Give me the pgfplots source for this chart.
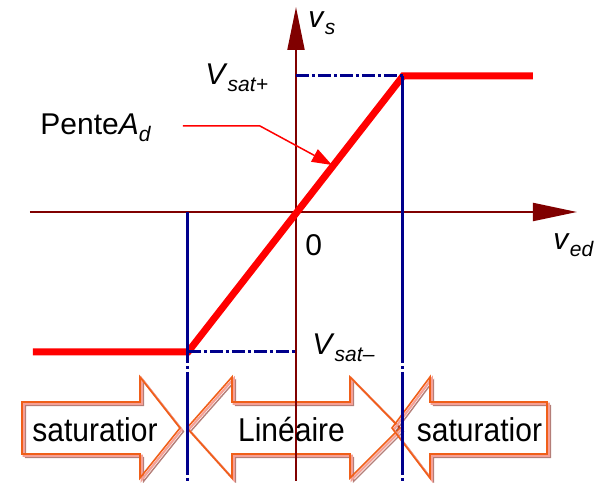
\documentclass[border=0pt]{standalone}
\usepackage{fontspec}
\setmainfont{Liberation Sans}
\usepackage{pgfplots}
\pgfplotsset{compat=1.18}
\usepackage{pgfplotstable}
\usetikzlibrary{arrows.meta}
\definecolor{axred}{RGB}{128,0,0}
\definecolor{bluec}{RGB}{0,0,140}
\definecolor{orangec}{RGB}{240,95,25}
\definecolor{pinkc}{RGB}{245,160,150}
\definecolor{shadowc}{RGB}{130,40,30}
\newcommand{\sbs}[1]{\raisebox{-0.4ex}{\fontsize{10.5}{12}\selectfont\itshape #1}}

% block arrows (pixel-offset units, origin at the axes' crossing)
\pgfplotstableread{
x y
-274 -190
-156 -190
-156 -165
-116 -216
-156 -266
-156 -242
-274 -242
}\arrowA
\pgfplotstableread{
x y
-109 -216
-64 -165
-64 -190
54 -190
54 -165
104 -216
54 -266
54 -242
-64 -242
-64 -266
}\arrowB
\pgfplotstableread{
x y
96 -216
134 -165
134 -190
251 -190
251 -242
134 -242
134 -266
}\arrowC

\begin{document}
\begin{tikzpicture}
\begin{axis}[scale only axis, width=301pt, height=240.5pt,
  xmin=-296, xmax=306, ymin=-269, ymax=212,
  hide axis, clip=false]
\addplot[draw=none] coordinates {(-296,-269) (306,212)};

% block arrows
\addplot[shadowc, opacity=0.6, line width=0.7pt] table[x expr=\thisrow{x}+3.5, y expr=\thisrow{y}-3.5] {\arrowA} -- cycle;
\addplot[pinkc, line width=1.1pt] table[x expr=\thisrow{x}+1.7, y expr=\thisrow{y}-1.7] {\arrowA} -- cycle;
\addplot[orangec, line width=0.8pt] table {\arrowA} -- cycle;
\addplot[shadowc, opacity=0.6, line width=0.7pt] table[x expr=\thisrow{x}+3.5, y expr=\thisrow{y}-3.5] {\arrowB} -- cycle;
\addplot[pinkc, line width=1.1pt] table[x expr=\thisrow{x}+1.7, y expr=\thisrow{y}-1.7] {\arrowB} -- cycle;
\addplot[orangec, line width=0.8pt] table {\arrowB} -- cycle;
\addplot[shadowc, opacity=0.6, line width=0.7pt] table[x expr=\thisrow{x}+3.5, y expr=\thisrow{y}-3.5] {\arrowC} -- cycle;
\addplot[pinkc, line width=1.1pt] table[x expr=\thisrow{x}+1.7, y expr=\thisrow{y}-1.7] {\arrowC} -- cycle;
\addplot[orangec, line width=0.8pt] table {\arrowC} -- cycle;

% axes
\addplot[axred, line width=1pt, -{Triangle[length=22pt,width=9pt]}] coordinates {(-266,0) (281,0)};
\addplot[axred, line width=1pt, -{Triangle[length=21.5pt,width=8.5pt]}] coordinates {(0,-269) (0,205)};

% transfer characteristic
\addplot[red, line width=3.5pt] coordinates {(-263,-140) (-108,-140) (107,136) (237,136)};

% blue guides
\addplot[bluec, line width=1.5pt, dash pattern=on 6.5pt off 1.5pt on 1.5pt off 1.5pt] coordinates {(0,136) (107,136)};
\addplot[bluec, line width=1.5pt, dash pattern=on 6.5pt off 1.5pt on 1.5pt off 1.5pt] coordinates {(-108,-140) (0,-140)};
\addplot[bluec, line width=1.5pt] coordinates {(-108,0) (-108,-151)};
\addplot[bluec, line width=1.5pt] coordinates {(107,136) (107,-151)};
\addplot[bluec, line width=1.5pt, dash pattern=on 0pt off 1.5pt on 1.5pt off 1.5pt on 50pt] coordinates {(-108,-151) (-108,-269)};
\addplot[bluec, line width=1.5pt, dash pattern=on 0pt off 1.5pt on 1.5pt off 1.5pt on 50pt] coordinates {(107,-151) (107,-269)};

% pointer
\addplot[red, line width=0.75pt, -{Triangle[length=10pt,width=7pt]}] coordinates {(-113,86) (-36,86) (36,47)};

% labels
\node[anchor=base west, inner sep=0, font=\fontsize{15}{18}\selectfont] at (axis cs:12,184) {\textit{v}\sbs{s}};
\node[anchor=base west, inner sep=0, font=\fontsize{15}{18}\selectfont] at (axis cs:-91,127) {\textit{V}\sbs{sat+}};
\node[anchor=base west, inner sep=0, font=\fontsize{15}{18}\selectfont] at (axis cs:-256,77) {Pente\textit{A}\sbs{d}};
\node[anchor=base west, inner sep=0, font=\fontsize{15}{18}\selectfont] at (axis cs:9,-44) {0};
\node[anchor=base west, inner sep=0, font=\fontsize{15}{18}\selectfont] at (axis cs:257,-38) {\textit{v}\sbs{ed}};
\node[anchor=base west, inner sep=0, font=\fontsize{15}{18}\selectfont] at (axis cs:16,-143) {\textit{V}\sbs{sat–}};

\node[anchor=base, inner sep=0, font=\fontsize{15}{18}\selectfont] at (axis cs:-201,-230) {\scalebox{1}[1.1]{saturatior}};
\node[anchor=base, inner sep=0, font=\fontsize{15}{18}\selectfont] at (axis cs:-4.5,-230) {\scalebox{1}[1.1]{Linéaire}};
\node[anchor=base, inner sep=0, font=\fontsize{15}{18}\selectfont] at (axis cs:183.5,-230) {\scalebox{1}[1.1]{saturatior}};
\end{axis}
\end{tikzpicture}
\end{document}
